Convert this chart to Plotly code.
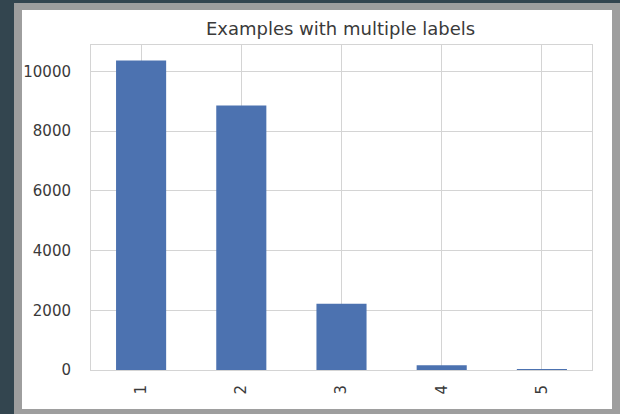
import plotly.graph_objects as go

categories = ["1", "2", "3", "4", "5"]
counts = [10370, 8860, 2220, 160, 4]
y_ticks = [0, 2000, 4000, 6000, 8000, 10000]

W, H = 620, 414
L, R, T, B = 91, 28, 45, 44
pw, ph = W - L - R, H - T - B

def px_x(p):
    return (p - L) / pw

def px_y(p):
    return (H - B - p) / ph

fig = go.Figure(go.Bar(x=categories, y=counts, width=0.5,
                       marker=dict(color="#4c72b0", line=dict(width=0))))

shapes = [
    dict(type="rect", xref="paper", yref="paper", layer="below",
         x0=px_x(14), x1=px_x(621), y0=px_y(415), y1=px_y(3),
         fillcolor="#9e9e9e", line=dict(width=0)),
    dict(type="rect", xref="paper", yref="paper", layer="below",
         x0=px_x(22), x1=px_x(612), y0=px_y(409), y1=px_y(10),
         fillcolor="#ffffff", line=dict(width=0)),
]

fig.update_layout(
    width=W, height=H,
    margin=dict(l=L, r=R, t=T, b=B, pad=0),
    paper_bgcolor="#33454f",
    plot_bgcolor="#ffffff",
    shapes=shapes,
    showlegend=False,
    font=dict(family="DejaVu Sans", color="#3a3a3a"),
    title=dict(text="Examples with multiple labels", x=340.5 / W, xanchor="center",
               y=1 - 29 / H, yanchor="middle", font=dict(size=18, color="#3a3a3a")),
    xaxis=dict(type="category", range=[-0.5, 4.5], tickangle=-90,
               showgrid=True, gridcolor="#d4d4d4", gridwidth=1,
               showline=True, linecolor="#d4d4d4", linewidth=1, mirror=True,
               ticks="", ticklabelstandoff=8, tickfont=dict(size=15, color="#3a3a3a")),
    yaxis=dict(range=[0, 10370 * 1.05], tickvals=y_ticks, tickformat="d",
               showgrid=True, gridcolor="#d4d4d4", gridwidth=1,
               showline=True, linecolor="#d4d4d4", linewidth=1, mirror=True,
               zeroline=False, ticks="", ticklabelstandoff=16,
               tickfont=dict(size=15, color="#3a3a3a")),
)

fig.write_html(
    "out.html",
    config={"displayModeBar": False},
    post_script="document.body.style.margin='0';document.body.style.padding='0';"
                "document.body.style.background='#33454f';"
                "document.documentElement.style.overflow='hidden';",
)
